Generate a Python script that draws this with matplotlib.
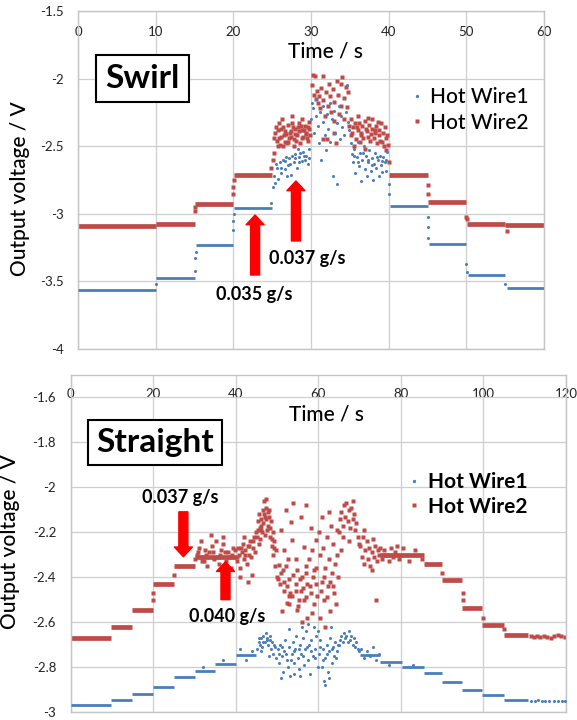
import matplotlib
matplotlib.use("Agg")
import matplotlib.pyplot as plt
from matplotlib.lines import Line2D

plt.rcParams['font.family'] = ['Lato', 'DejaVu Sans']

BLUE = '#4a7ebb'
RED = '#be4b48'

# ---------------- Swirl (top) ----------------
swirl_xticks = [0, 10, 20, 30, 40, 50, 60]
swirl_yticks = [-4, -3.5, -3, -2.5, -2, -1.5]
swirl_ytick_labels = ['-4', '-3.5', '-3', '-2.5', '-2', '-1.5']

# plateaus: (start s, end s, level V)
swirl_steps_w1 = [(0, 10, -3.565), (10, 15, -3.478), (15.2, 20, -3.234), (20.1, 25, -2.958),
                  (40.2, 45, -2.945), (45.2, 50, -3.222), (50.2, 55, -3.455), (55.2, 60, -3.550)]
swirl_steps_w2 = [(0, 10, -3.090), (10, 15, -3.078), (15.1, 20, -2.925), (20.1, 25, -2.715),
                  (40.1, 45, -2.712), (45.1, 50, -2.912), (50.1, 55, -3.072), (55, 60, -3.080)]

swirl_pts_w1 = [
    (10.0, -3.52), (15.0, -3.42), (15.1, -3.33), (15.2, -3.28), (20.0, -3.12), (20.0, -3.05), (20.1, -3.00),
    (24.9, -2.92), (25.1, -2.80), (25.3, -2.72), (25.4, -2.77), (25.6, -2.66), (25.8, -2.74), (26.0, -2.62),
    (26.2, -2.70), (26.4, -2.60), (26.6, -2.67), (26.8, -2.58), (27.0, -2.64), (27.2, -2.59), (27.4, -2.71),
    (27.6, -2.57), (27.8, -2.62), (28.0, -2.56), (28.2, -2.66), (28.4, -2.58), (28.6, -2.55), (28.8, -2.61),
    (29.0, -2.54), (29.2, -2.60), (29.4, -2.57), (29.6, -2.63), (29.8, -2.52), (26.9, -2.72), (28.3, -2.52),
    (25.5, -2.63), (26.1, -2.66), (26.7, -2.61), (27.3, -2.63), (27.9, -2.59), (28.5, -2.62), (29.1, -2.57),
    (29.7, -2.59),
    (30.0, -2.30), (30.1, -2.18), (30.3, -2.22), (30.4, -2.40), (30.6, -2.28), (30.7, -2.15), (30.9, -2.35),
    (31.0, -2.48), (31.2, -2.25), (31.3, -2.60), (31.5, -2.32), (31.6, -2.20), (31.8, -2.42), (31.9, -2.53),
    (32.1, -2.26), (32.2, -2.37), (32.4, -2.18), (32.5, -2.47), (32.7, -2.30), (32.8, -2.72), (33.0, -2.24),
    (33.1, -2.40), (33.3, -2.78), (33.4, -2.33), (33.6, -2.20), (33.7, -2.45), (33.9, -2.28), (34.0, -2.36),
    (34.2, -2.14), (34.3, -2.42), (34.5, -2.25), (34.6, -2.05), (34.8, -2.32), (34.9, -2.38),
    (35.1, -2.48), (35.3, -2.56), (35.4, -2.62), (35.6, -2.52), (35.7, -2.70), (35.9, -2.58), (36.0, -2.47),
    (36.2, -2.65), (36.3, -2.55), (36.5, -2.76), (36.6, -2.60), (36.8, -2.50), (36.9, -2.67), (37.1, -2.57),
    (37.2, -2.72), (37.4, -2.62), (37.5, -2.53), (37.7, -2.68), (37.8, -2.59), (38.0, -2.75), (38.1, -2.63),
    (38.3, -2.55), (38.4, -2.66), (38.6, -2.60), (38.7, -2.72), (38.9, -2.57), (39.0, -2.64), (39.2, -2.69),
    (39.3, -2.58), (39.5, -2.62), (39.6, -2.68), (39.8, -2.54), (40.0, -2.78), (40.1, -2.85),
    (35.5, -2.57), (36.1, -2.62), (36.7, -2.55), (37.3, -2.60), (37.9, -2.64), (38.5, -2.58), (39.1, -2.61),
    (39.7, -2.60),
    (45.0, -3.02), (45.1, -3.10), (45.1, -3.18), (50.0, -3.37), (50.1, -3.43), (55.0, -3.52),
]
swirl_pts_w2 = [
    (15.0, -2.98), (15.1, -2.95), (20.0, -2.85), (20.0, -2.80), (20.1, -2.75), (24.9, -2.66), (25.1, -2.60),
    (25.2, -2.55), (25.4, -2.40), (25.6, -2.46), (25.8, -2.38), (26.0, -2.49), (26.2, -2.43), (26.4, -2.36),
    (26.6, -2.47), (26.8, -2.41), (27.0, -2.34), (27.2, -2.44), (27.4, -2.39), (27.6, -2.28), (27.8, -2.45),
    (28.0, -2.37), (28.2, -2.42), (28.4, -2.33), (28.6, -2.48), (28.8, -2.38), (29.0, -2.43), (29.2, -2.35),
    (29.4, -2.40), (29.6, -2.46), (29.8, -2.32), (25.3, -2.44), (25.7, -2.50), (26.1, -2.37), (26.5, -2.42),
    (26.9, -2.48), (27.3, -2.40), (27.7, -2.36), (28.1, -2.46), (28.5, -2.39), (28.9, -2.44), (29.3, -2.41),
    (29.7, -2.37), (26.3, -2.30), (27.5, -2.33), (28.7, -2.35), (29.5, -2.44),
    (25.5, -2.36), (25.9, -2.44), (26.7, -2.39), (27.1, -2.47), (27.9, -2.41), (28.3, -2.36), (29.1, -2.38),
    (29.9, -2.42), (26.4, -2.50), (27.8, -2.50), (28.8, -2.30), (25.9, -2.33), (27.4, -2.43), (29.6, -2.36),
    (30.1, -2.05), (30.2, -1.97), (30.4, -2.12), (30.5, -1.98), (30.6, -2.15), (30.8, -2.09), (30.9, -2.18),
    (31.0, -2.13), (31.2, -2.22), (31.3, -2.07), (31.5, -1.98), (31.6, -2.16), (31.8, -2.28), (31.9, -2.10),
    (32.0, -2.45), (32.2, -2.20), (32.3, -2.04), (32.5, -2.13), (32.6, -2.25), (32.8, -2.08), (32.9, -2.31),
    (33.0, -2.17), (33.2, -2.48), (33.3, -2.02), (33.5, -2.12), (33.6, -2.26), (33.8, -2.04), (33.9, -2.20),
    (34.0, -1.99), (34.2, -2.14), (34.3, -2.30), (34.5, -2.06), (34.6, -2.21), (34.8, -2.10), (34.9, -2.35),
    (31.5, -2.45), (33.0, -2.40),
    (35.1, -2.30), (35.2, -2.42), (35.4, -2.36), (35.5, -2.50), (35.7, -2.33), (35.8, -2.45), (36.0, -2.38),
    (36.1, -2.28), (36.3, -2.47), (36.4, -2.40), (36.6, -2.35), (36.7, -2.44), (36.9, -2.31), (37.0, -2.52),
    (37.2, -2.39), (37.3, -2.43), (37.5, -2.34), (37.6, -2.46), (37.8, -2.37), (37.9, -2.30), (38.1, -2.44),
    (38.2, -2.40), (38.4, -2.35), (38.5, -2.48), (38.7, -2.38), (38.8, -2.42), (39.0, -2.33), (39.1, -2.47),
    (39.3, -2.40), (39.4, -2.50), (39.6, -2.44), (39.7, -2.53), (39.9, -2.49), (40.0, -2.62),
    (35.3, -2.40), (35.9, -2.36), (36.5, -2.42), (37.1, -2.37), (37.7, -2.41), (38.3, -2.38), (38.9, -2.46),
    (39.5, -2.36), (36.2, -2.33), (37.4, -2.29), (38.6, -2.32), (39.8, -2.42),
    (45.0, -2.79), (45.1, -2.85), (50.0, -3.02), (50.1, -3.04), (55.3, -3.13),
]

# ---------------- Straight (bottom) ----------------
straight_xticks = [0, 20, 40, 60, 80, 100, 120]
straight_yticks = [-3, -2.8, -2.6, -2.4, -2.2, -2, -1.8, -1.6]
straight_ytick_labels = ['-3', '-2.8', '-2.6', '-2.4', '-2.2', '-2', '-1.8', '-1.6']

straight_steps_w1 = [(0, 9.7, -2.970), (9.7, 14.8, -2.947), (14.8, 19.9, -2.922), (19.9, 25, -2.888),
                     (25, 30.2, -2.843), (30.2, 35, -2.818), (35, 40, -2.785), (40, 45, -2.745),
                     (70, 75, -2.745), (75, 80.2, -2.776), (80.2, 85.5, -2.801), (85.5, 89.9, -2.826),
                     (89.9, 94.7, -2.868), (94.7, 99.6, -2.903), (99.6, 104.9, -2.924), (104.9, 110.9, -2.948)]
straight_steps_w2 = [(0, 9.7, -2.670), (9.7, 14.8, -2.622), (14.8, 19.9, -2.548), (19.9, 25, -2.430),
                     (25, 30, -2.352), (30, 40, -2.310), (75, 85.5, -2.300), (85.5, 89.9, -2.340),
                     (89.9, 94.7, -2.414), (94.7, 99.6, -2.537), (99.6, 104.9, -2.611), (104.9, 110.9, -2.656)]

straight_pts_w1 = [
    (45.2, -2.72), (45.5, -2.69), (45.8, -2.70), (46.1, -2.67), (46.4, -2.71), (46.7, -2.66), (47.0, -2.69),
    (47.3, -2.65), (47.6, -2.68), (47.9, -2.70), (48.2, -2.66), (48.5, -2.72), (48.8, -2.69), (49.1, -2.74),
    (49.4, -2.71), (49.7, -2.76), (46.0, -2.73), (48.0, -2.75),
    (45.6, -2.67), (46.5, -2.69), (47.5, -2.67), (48.4, -2.68), (49.3, -2.70),
    (50.2, -2.72), (50.5, -2.78), (50.8, -2.70), (51.1, -2.75), (51.4, -2.82), (51.7, -2.73), (52.0, -2.68),
    (52.3, -2.77), (52.6, -2.80), (52.9, -2.71), (53.2, -2.84), (53.5, -2.74), (53.8, -2.69), (54.1, -2.78),
    (54.4, -2.72), (54.7, -2.66), (55.0, -2.76), (55.3, -2.81), (55.6, -2.70), (55.9, -2.74), (56.2, -2.67),
    (56.5, -2.79), (56.8, -2.72), (57.1, -2.64), (57.4, -2.77), (57.7, -2.70), (58.0, -2.83), (58.3, -2.68),
    (58.6, -2.75), (58.9, -2.62), (59.2, -2.72), (59.5, -2.66), (59.8, -2.80), (51.0, -2.85), (53.0, -2.63),
    (55.5, -2.84), (57.5, -2.61), (54.0, -2.83), (56.0, -2.62),
    (50.4, -2.74), (51.3, -2.71), (52.2, -2.74), (53.3, -2.77), (54.2, -2.73), (55.2, -2.72), (56.3, -2.75),
    (57.2, -2.71), (58.2, -2.73), (59.3, -2.76),
    (60.2, -2.74), (60.5, -2.68), (60.8, -2.80), (61.1, -2.72), (61.4, -2.86), (61.7, -2.76), (62.0, -2.70),
    (62.3, -2.82), (62.6, -2.73), (62.9, -2.67), (63.2, -2.78), (63.5, -2.71), (63.8, -2.75), (64.1, -2.69),
    (64.4, -2.73), (64.7, -2.70), (61.5, -2.88), (62.5, -2.85), (60.0, -2.64), (63.0, -2.62),
    (60.3, -2.71), (61.2, -2.77), (62.2, -2.74), (63.3, -2.72), (64.2, -2.76),
    (65.0, -2.70), (65.3, -2.68), (65.6, -2.66), (65.9, -2.69), (66.2, -2.65), (66.5, -2.67), (66.8, -2.66),
    (67.1, -2.69), (67.4, -2.64), (67.7, -2.68), (68.0, -2.66), (68.3, -2.70), (68.6, -2.67), (68.9, -2.71),
    (69.2, -2.69), (69.5, -2.72), (69.8, -2.73),
    (70.3, -2.72), (71.0, -2.76), (71.8, -2.73), (72.5, -2.75), (73.3, -2.71), (74.0, -2.77), (74.6, -2.74),
    (41.0, -2.72), (42.5, -2.77), (44.0, -2.73), (32.0, -2.80), (37.0, -2.77), (77.0, -2.79), (83.0, -2.79),
    (111.5, -2.950), (112.5, -2.950), (113.3, -2.948), (114.2, -2.952), (115.0, -2.950), (116.0, -2.952),
    (117.0, -2.950), (118.0, -2.950), (119.0, -2.953), (119.8, -2.950),
]
straight_pts_w2 = [
    (19.9, -2.47), (20.0, -2.50), (25.0, -2.39), (90.0, -2.38), (95.0, -2.47), (95.1, -2.50), (100.0, -2.58),
    (105.0, -2.63),
    (30.5, -2.30), (31.2, -2.27), (31.8, -2.33), (32.5, -2.28), (33.0, -2.35), (33.6, -2.29), (34.2, -2.26),
    (34.8, -2.32), (35.3, -2.24), (35.9, -2.34), (36.4, -2.28), (37.0, -2.25), (37.6, -2.33), (38.1, -2.29),
    (38.8, -2.36), (39.4, -2.27), (31.5, -2.24), (36.8, -2.22), (33.9, -2.21),
    (30.2, -2.32), (30.9, -2.29), (31.6, -2.31), (32.2, -2.33), (32.9, -2.30), (34.5, -2.29), (35.6, -2.31),
    (36.1, -2.30), (37.3, -2.29), (38.4, -2.31), (39.1, -2.30), (39.8, -2.28),
    (40.2, -2.33), (40.5, -2.27), (40.8, -2.30), (41.1, -2.36), (41.4, -2.29), (41.7, -2.25), (42.0, -2.32),
    (42.3, -2.28), (42.6, -2.34), (42.9, -2.26), (43.2, -2.30), (43.5, -2.24), (43.8, -2.31), (44.1, -2.27),
    (44.4, -2.22), (44.7, -2.29), (41.0, -2.40), (43.0, -2.42), (44.0, -2.39), (42.0, -2.22), (44.8, -2.20),
    (40.4, -2.31), (41.3, -2.27), (42.2, -2.30), (43.1, -2.26), (44.2, -2.24),
    (45.1, -2.22), (45.3, -2.15), (45.5, -2.25), (45.7, -2.12), (45.9, -2.18), (46.1, -2.14), (46.3, -2.20),
    (46.5, -2.10), (46.7, -2.16), (46.9, -2.06), (47.1, -2.13), (47.3, -2.05), (47.5, -2.19), (47.7, -2.11),
    (47.9, -2.17), (48.1, -2.13), (48.3, -2.22), (48.5, -2.15), (48.7, -2.26), (48.9, -2.20), (49.1, -2.30),
    (49.3, -2.24), (49.5, -2.35), (49.7, -2.28), (49.9, -2.40), (46.0, -2.19), (47.0, -2.21), (48.0, -2.10),
    (45.4, -2.19), (46.2, -2.17), (46.8, -2.12), (47.4, -2.14), (48.2, -2.18), (48.8, -2.23), (45.8, -2.23),
    (47.2, -2.09), (49.2, -2.27),
    (51.0, -2.19), (52.1, -2.10), (53.3, -2.155), (53.9, -2.07), (55.7, -2.13), (56.9, -2.08), (58.1, -2.18),
    (59.4, -2.235), (51.7, -2.28), (52.7, -2.32), (50.9, -2.38), (50.7, -2.43), (51.7, -2.46), (52.9, -2.41),
    (53.7, -2.485), (54.5, -2.43), (54.9, -2.37), (55.7, -2.46), (56.5, -2.50), (57.3, -2.43), (57.7, -2.32),
    (58.5, -2.28), (58.9, -2.37), (59.6, -2.485), (51.3, -2.55), (52.5, -2.515), (54.9, -2.545), (56.1, -2.60),
    (57.3, -2.58), (58.5, -2.56), (53.7, -2.235), (56.5, -2.265), (54.5, -2.32), (52.1, -2.35), (58.1, -2.47),
    (55.3, -2.50), (52.9, -2.485), (51.7, -2.42), (50.5, -2.345), (56.1, -2.40), (56.9, -2.35), (59.4, -2.43),
    (50.3, -2.41), (51.5, -2.37), (52.4, -2.44), (53.1, -2.47), (53.9, -2.39), (54.7, -2.46), (55.5, -2.41),
    (56.3, -2.45), (57.1, -2.38), (57.9, -2.44), (58.7, -2.40), (59.5, -2.36), (55.0, -2.53), (59.0, -2.52),
    (53.0, -2.52), (57.0, -2.49),
    (60.2, -2.20), (60.5, -2.30), (60.8, -2.42), (61.1, -2.27), (61.4, -2.50), (61.7, -2.36), (62.0, -2.22),
    (62.3, -2.44), (62.6, -2.32), (62.9, -2.55), (63.2, -2.38), (63.5, -2.25), (63.8, -2.47), (64.1, -2.34),
    (64.4, -2.19), (64.7, -2.40), (60.4, -2.58), (61.6, -2.62), (63.0, -2.17), (64.2, -2.52), (61.0, -2.13),
    (62.5, -2.11), (60.6, -2.46), (61.3, -2.40), (62.1, -2.49), (62.8, -2.42), (63.6, -2.44), (64.5, -2.30),
    (65.0, -2.20), (65.3, -2.14), (65.6, -2.11), (65.9, -2.17), (66.2, -2.08), (66.5, -2.13), (66.8, -2.07),
    (67.1, -2.15), (67.4, -2.10), (67.7, -2.18), (68.0, -2.09), (68.3, -2.14), (68.6, -2.12), (68.9, -2.19),
    (69.2, -2.16), (69.5, -2.22), (69.8, -2.25), (66.0, -2.22), (67.5, -2.24), (68.5, -2.06), (65.5, -2.28),
    (70.2, -2.26), (70.5, -2.31), (70.8, -2.22), (71.1, -2.34), (71.4, -2.28), (71.7, -2.24), (72.0, -2.32),
    (72.3, -2.27), (72.6, -2.35), (72.9, -2.29), (73.2, -2.23), (73.5, -2.31), (73.8, -2.26), (74.1, -2.33),
    (74.4, -2.28), (74.7, -2.30), (75.0, -2.27), (75.5, -2.32), (76.0, -2.28), (76.5, -2.30), (77.0, -2.33),
    (77.5, -2.27), (78.0, -2.31), (78.5, -2.29), (79.0, -2.26), (79.5, -2.32), (74.0, -2.50), (71.0, -2.19),
    (73.0, -2.37), (80.5, -2.27), (82.0, -2.33), (83.5, -2.28), (85.0, -2.32),
    (111.5, -2.662), (112.3, -2.665), (113.0, -2.660), (113.8, -2.668), (114.6, -2.662), (115.5, -2.665),
    (116.3, -2.670), (117.2, -2.660), (118.0, -2.657), (118.8, -2.660), (119.7, -2.665),
]

W = 577 / 100.0
H = 720 / 100.0
fig = plt.figure(figsize=(W, H), dpi=100)


def px_ax(l, t, r, b):
    return [l / 577, 1 - b / 720, (r - l) / 577, (b - t) / 720]


def draw(ax, steps1, steps2, pts1, pts2):
    for (a, b, v) in steps1:
        ax.hlines(v, a, b, colors=BLUE, lw=2.0, zorder=3, capstyle='butt')
    for (a, b, v) in steps2:
        ax.hlines(v, a, b, colors=RED, lw=3.4, zorder=2, capstyle='butt')
    ax.plot([p[0] for p in pts2], [p[1] for p in pts2], ls='none', marker='s', ms=2.6,
            color=RED, mec='none', zorder=2)
    ax.plot([p[0] for p in pts1], [p[1] for p in pts1], ls='none', marker='o', ms=2.2,
            color=BLUE, mec='none', zorder=3)


def style(ax, xt, yt, ytl, xpad):
    ax.set_xticks(xt)
    ax.set_xticklabels([str(v) for v in xt])
    ax.set_yticks(yt)
    ax.set_yticklabels(ytl)
    ax.xaxis.tick_top()
    ax.tick_params(axis='x', length=0, pad=xpad, labelsize=9.5, colors='#222222')
    ax.tick_params(axis='y', length=0, pad=10.5, labelsize=9.5, colors='#222222')
    ax.grid(True, color='#cfcfcf', lw=0.9, zorder=0)
    ax.set_axisbelow(True)
    for s in ax.spines.values():
        s.set_color('#c4c4c4')
        s.set_linewidth(1.0)


# ---- top ----
ax1 = fig.add_axes(px_ax(78, 11, 544, 349))
ax1.set_xlim(0, 60)
ax1.set_ylim(-4, -1.5)
style(ax1, swirl_xticks, swirl_yticks, swirl_ytick_labels, -19.5)
draw(ax1, swirl_steps_w1, swirl_steps_w2, swirl_pts_w1, swirl_pts_w2)
ax1.text(31.8, -1.80, 'Time / s', ha='center', va='center', fontsize=15, fontweight='medium')
ax1.text(8.3, -2.0, 'Swirl', ha='center', va='center', fontsize=24, fontweight='bold',
         bbox=dict(boxstyle='square,pad=0.27', fc='white', ec='black', lw=1.5), zorder=5)
arrow_kw = dict(arrowstyle='simple,head_length=0.7,head_width=1.3,tail_width=0.65',
                color='#ff0000', mutation_scale=10, shrinkA=0, shrinkB=0)
ax1.annotate('', xy=(22.8, -3.009), xytext=(22.8, -3.453), arrowprops=arrow_kw, zorder=6)
ax1.annotate('', xy=(28.06, -2.757), xytext=(28.06, -3.201), arrowprops=arrow_kw, zorder=6)
ax1.text(22.7, -3.60, '0.035 g/s', ha='center', va='center', fontsize=13, fontweight='bold')
ax1.text(29.5, -3.327, '0.037 g/s', ha='center', va='center', fontsize=13, fontweight='bold')

h1 = [Line2D([], [], ls='none', marker='o', ms=2.4, color=BLUE, mec='none'),
      Line2D([], [], ls='none', marker='s', ms=2.8, color=RED, mec='none')]
fig.legend(h1, ['Hot Wire1', 'Hot Wire2'], loc='center left', bbox_to_anchor=(411 / 577, 1 - 110 / 720),
           frameon=False, handlelength=0.6, handletextpad=0.3, labelspacing=0.25,
           borderpad=0, borderaxespad=0, prop={'size': 15, 'weight': 'medium'})

fig.text(20 / 577, 1 - 189 / 720, 'Output voltage / V', rotation=90, ha='center', va='center',
         fontsize=15, fontweight='medium')

# ---- bottom ----
ax2 = fig.add_axes(px_ax(70.7, 375, 566, 712))
ax2.set_xlim(0, 120)
ax2.set_ylim(-3, -1.5)
style(ax2, straight_xticks, straight_yticks, straight_ytick_labels, -18.0)
draw(ax2, straight_steps_w1, straight_steps_w2, straight_pts_w1, straight_pts_w2)
ax2.text(62, -1.678, 'Time / s', ha='center', va='center', fontsize=15, fontweight='medium')
ax2.text(20.5, -1.80, 'Straight', ha='center', va='center', fontsize=24, fontweight='bold',
         bbox=dict(boxstyle='square,pad=0.24', fc='white', ec='black', lw=1.5), zorder=5)
ax2.annotate('', xy=(27.3, -2.309), xytext=(27.3, -2.109), arrowprops=arrow_kw, zorder=6)
ax2.annotate('', xy=(37.5, -2.331), xytext=(37.5, -2.50), arrowprops=arrow_kw, zorder=6)
ax2.text(26.5, -2.047, '0.037 g/s', ha='center', va='center', fontsize=13, fontweight='bold')
ax2.text(37.9, -2.576, '0.040 g/s', ha='center', va='center', fontsize=13, fontweight='bold')

fig.legend(h1, ['Hot Wire1', 'Hot Wire2'], loc='center left', bbox_to_anchor=(408 / 577, 1 - 494.5 / 720),
           frameon=False, handlelength=0.6, handletextpad=0.36, labelspacing=0.2,
           borderpad=0, borderaxespad=0, prop={'size': 15, 'weight': 'bold'})

fig.text(10 / 577, 1 - 542 / 720, 'Output voltage / V', rotation=90, ha='center', va='center',
         fontsize=15, fontweight='medium')

fig.savefig('out.png', dpi=100)
